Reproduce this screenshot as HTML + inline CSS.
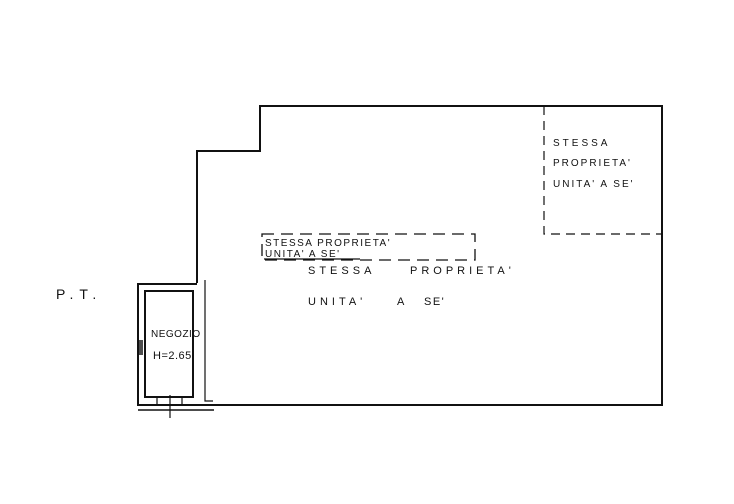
<!DOCTYPE html>
<html><head><style>body{margin:0;background:#fff}svg{display:block}text{font-family:"Liberation Sans",sans-serif;fill:#111}</style></head><body>
<svg width="734" height="504" viewBox="0 0 734 504" xmlns="http://www.w3.org/2000/svg">
<g stroke="#111" fill="none">
<path d="M197,283 V151 H260 V106 H662 V405 H138 V284 H197" stroke-width="2"/>
<path d="M138,410 H214" stroke-width="1.5"/>
<rect x="145" y="291" width="48" height="106" stroke-width="2"/>
<path d="M205,280 V401 H213" stroke-width="1.2"/>
<path d="M142,340 V355 M140,340 V355" stroke-width="1.5"/>
<path d="M170,395 V418 M157,397 V405 M182,397 V405" stroke-width="1.2"/>
<path d="M544,106 V234 H662" stroke-width="1.2" stroke-dasharray="9,6"/>
<rect x="262" y="234" width="213" height="26" stroke-width="1.3" stroke-dasharray="12,7"/>
<path d="M264,259 H360" stroke-width="1.2"/>
</g>
<g font-size="11" letter-spacing="1.5">
<text x="265" y="246" font-size="10">STESSA PROPRIETA'</text>
<text x="265" y="257" font-size="10">UNITA'  A  SE'</text>
<text x="308" y="274" letter-spacing="4">STESSA</text>
<text x="410" y="274" letter-spacing="4">PROPRIETA'</text>
<text x="308" y="305" letter-spacing="4">UNITA'</text>
<text x="397" y="305">A</text><text x="424" y="305">SE'</text>
<text x="553" y="146" letter-spacing="3" font-size="10">STESSA</text>
<text x="553" y="166" letter-spacing="2" font-size="10">PROPRIETA'</text>
<text x="553" y="187" letter-spacing="2" font-size="10">UNITA' A SE'</text>
<text x="151" y="337" font-size="10" letter-spacing="0.5">NEGOZIO</text>
<text x="153" y="359" font-size="11" letter-spacing="0.5">H=2.65</text>
<text x="56" y="299" font-size="14" letter-spacing="6">P.T.</text>
</g>
</svg>
</body></html>
